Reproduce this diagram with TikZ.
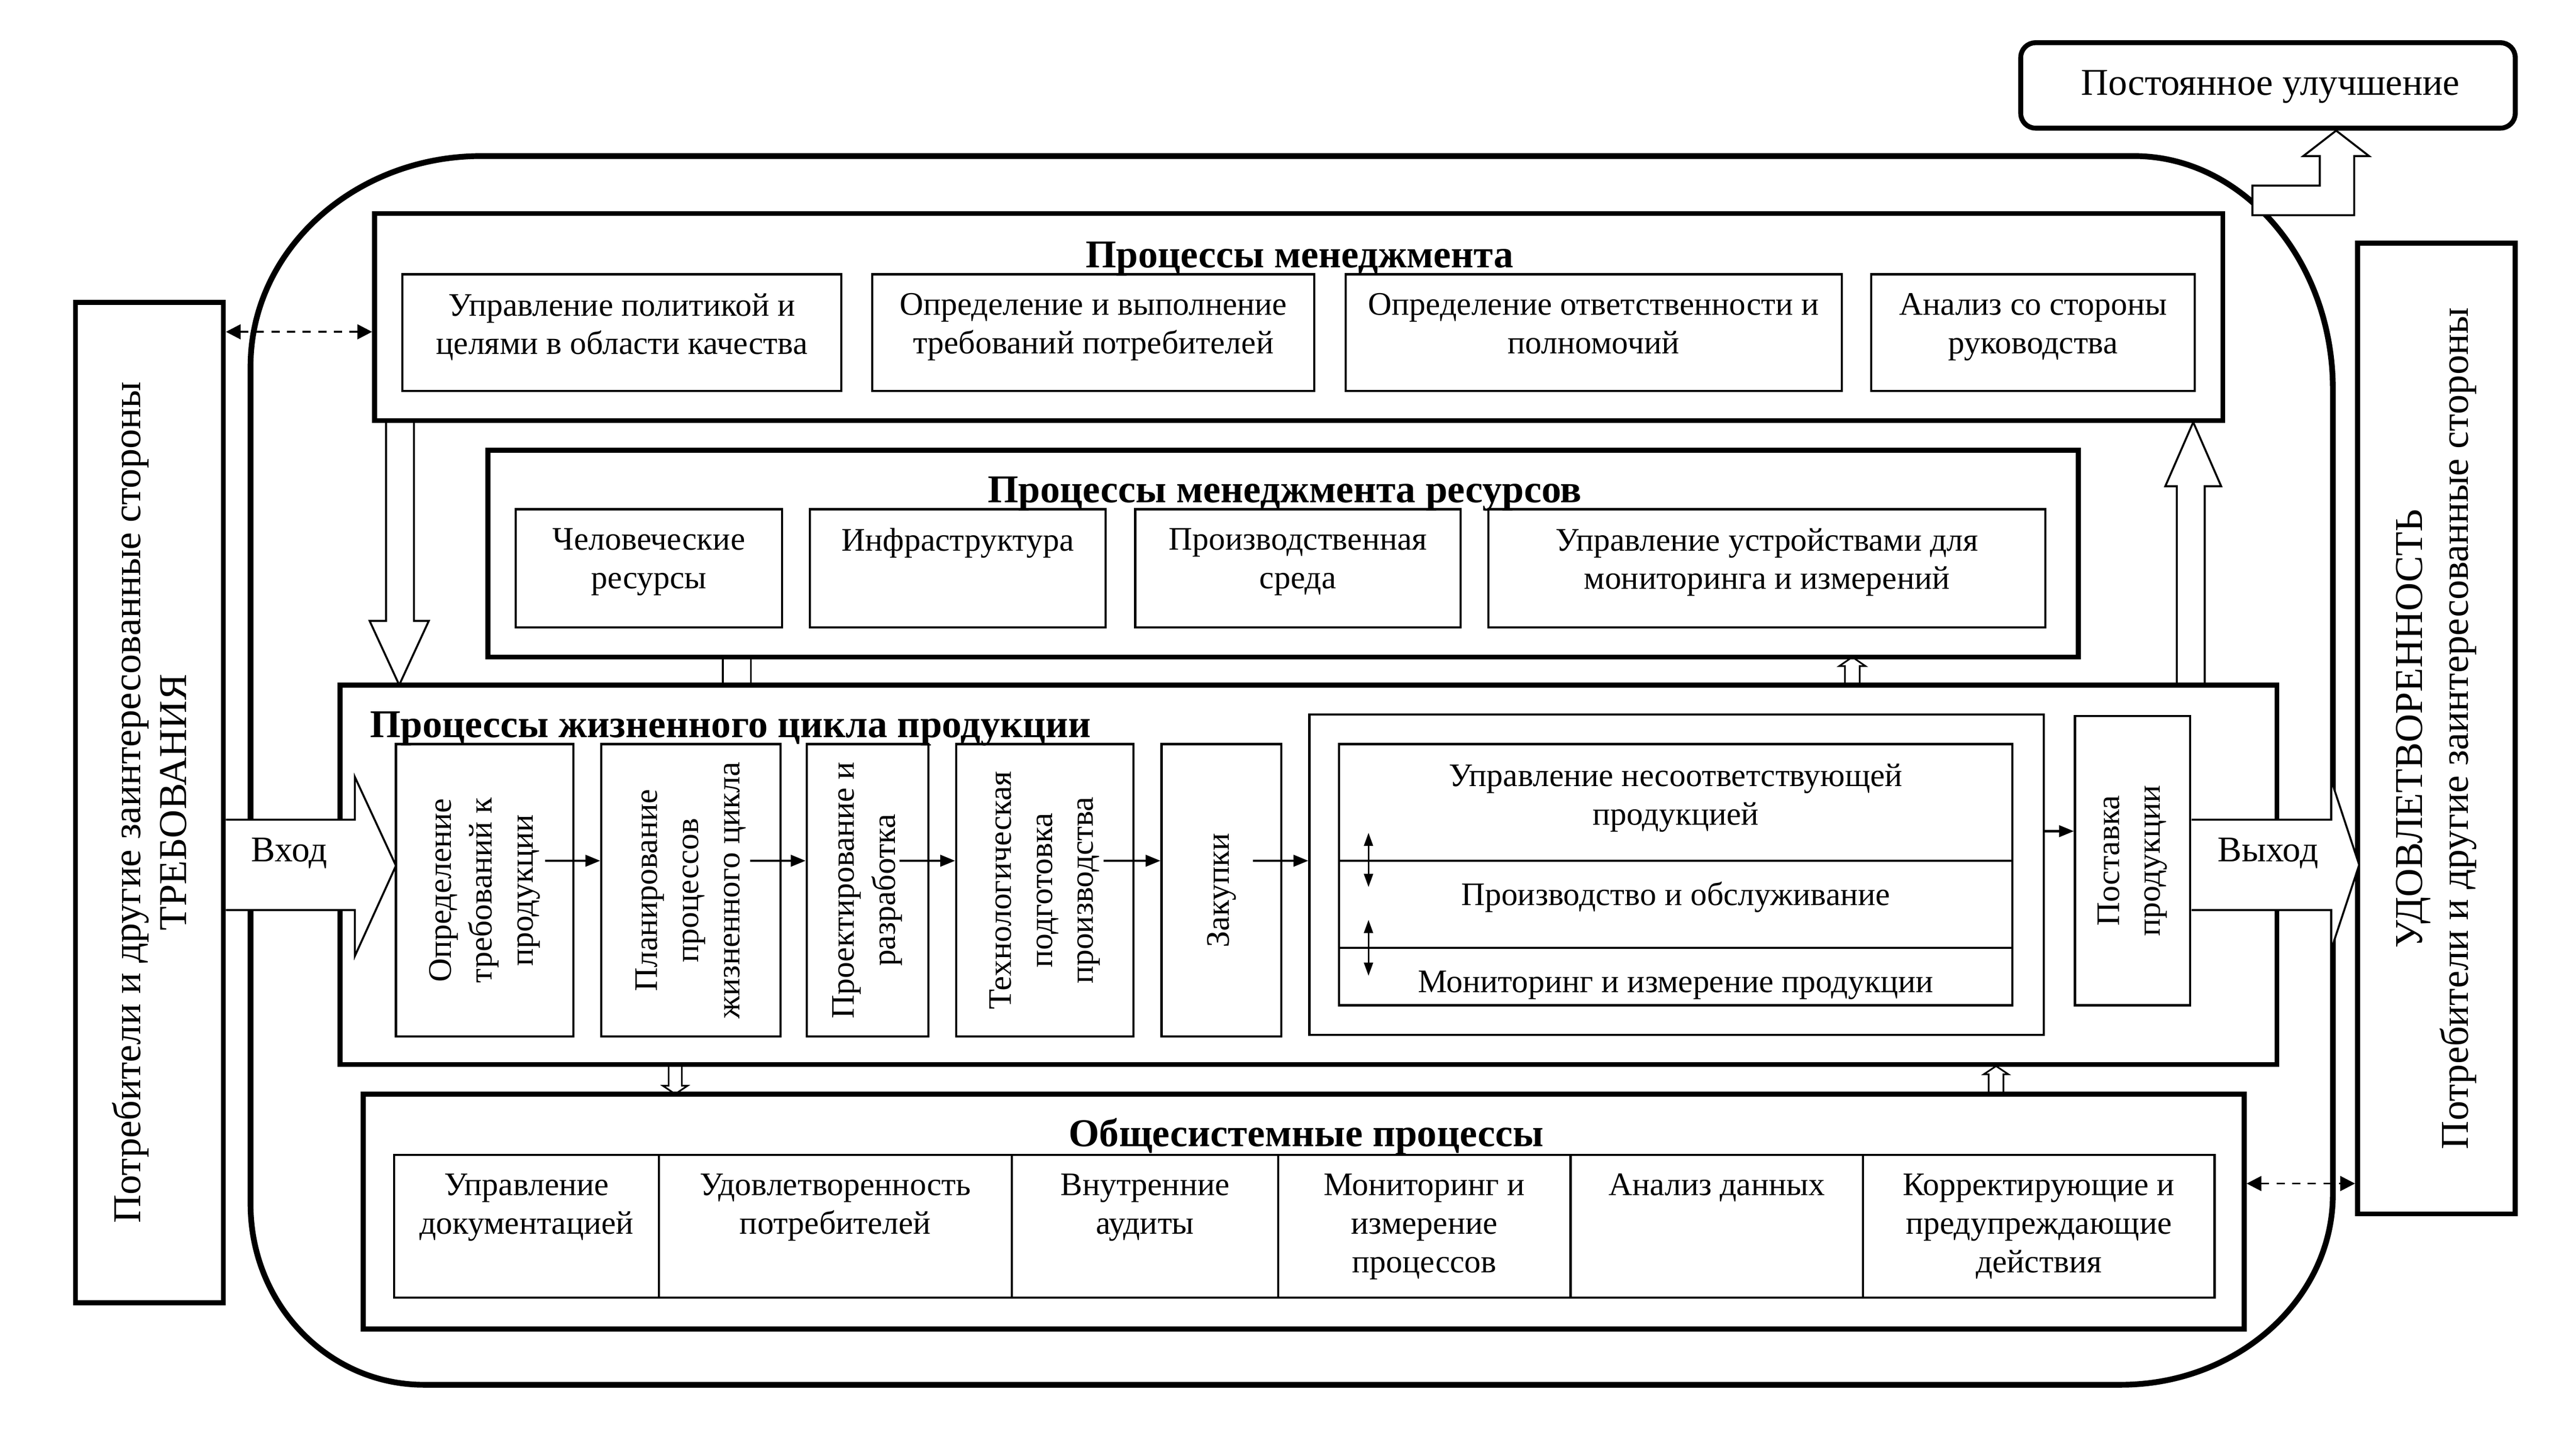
\documentclass[tikz,border=0pt]{standalone}
\usepackage{fontspec}
\setmainfont{Liberation Serif}
\usetikzlibrary{fit,calc,arrows.meta}
\begin{document}
\begin{tikzpicture}[x=1pt,y=-1pt,
  thickbox/.style={draw, line width=3pt, inner sep=0pt},
  thinbox/.style={draw, line width=1.3pt, inner sep=0pt},
  txt/.style={font=\fontsize{20}{23.5}\selectfont, align=center, inner sep=0pt},
  rtxt/.style={font=\fontsize{20}{25}\selectfont, align=center, inner sep=0pt, rotate=90},
  sidetxt/.style={font=\fontsize{24}{28}\selectfont, align=center, inner sep=0pt, rotate=90},
  ttl/.style={font=\fontsize{24}{28}\selectfont\bfseries, inner sep=0pt},
  iotxt/.style={font=\fontsize{22}{26}\selectfont, inner sep=0pt, anchor=base},
  blockarrow/.style={draw, fill=white, line width=1.2pt, line join=miter},
  flow/.style={-{Triangle[length=9pt,width=7pt]}, line width=1.3pt},
  dbl/.style={{Triangle[length=8pt,width=5.5pt]}-{Triangle[length=8pt,width=5.5pt]}, line width=1pt},
  dasharrow/.style={{Triangle[length=9pt,width=9pt]}-{Triangle[length=9pt,width=9pt]}, line width=1.2pt, dash pattern=on 5pt off 4.5pt},
]
\useasboundingbox (0,0) rectangle (1568,870.4);

% outer rounded contour
\draw[line width=3.5pt] (152.5,223) .. controls (152.5,152.3) and (215.7,95) .. (293,95)
  -- (1299,95) .. controls (1365.3,95) and (1420,158.6) .. (1420,237)
  -- (1420,727) .. controls (1420,791.1) and (1361.7,843) .. (1291,843)
  -- (258,843) .. controls (199.5,843) and (152.5,793.75) .. (152.5,733) -- cycle;

% block arrows between the process boxes (drawn below the boxes)
\path[blockarrow] (235,256.5) -- (235,378) -- (225,378) -- (243,417) -- (261,378) -- (252,378) -- (252,256.5);
\path[blockarrow] (1325,417) -- (1325,296) -- (1318,296) -- (1335,257) -- (1352,296) -- (1342,296) -- (1342,417);
\path[blockarrow, line width=1pt] (440,400) rectangle (457,417);
\path[blockarrow, line width=1pt] (1123,417) -- (1123,405.5) -- (1119.5,405.5) -- (1127.5,400) -- (1135.5,405.5) -- (1132,405.5) -- (1132,417);
\path[blockarrow, line width=1pt] (407,648) -- (407,661) -- (403.5,661) -- (411,666) -- (418.5,661) -- (415,661) -- (415,648);
\path[blockarrow, line width=1pt] (1210.5,666) -- (1210.5,654) -- (1207.5,654) -- (1215,649) -- (1222.5,654) -- (1219.5,654) -- (1219.5,666);

% side boxes
\node[thickbox, fit={(46,184) (136,793)}] (lb) {};
\node[thickbox, fit={(1435,148) (1531,739)}] (rb) {};
\node[thickbox, rounded corners=9pt, fit={(1230,26) (1531,78)}] (pu) {};
\node[sidetxt] at (lb.center) {Потребители и другие заинтересованные стороны\\ТРЕБОВАНИЯ};
\node[sidetxt] at (rb.center) {УДОВЛЕТВОРЕННОСТЬ\\Потребители и другие заинтересованные стороны};
\node[font=\fontsize{23}{27}\selectfont, inner sep=0pt, anchor=base] at (1382,58) {Постоянное улучшение};

% management processes
\node[thickbox, fit={(228,130) (1353,256)}] (mg) {};
\node[ttl, anchor=base] at (791,163) {Процессы менеджмента};
\node[thinbox, fit={(245,167) (512,238)}] (m1) {};
\node[thinbox, fit={(531,167) (800,238)}] (m2) {};
\node[thinbox, fit={(819,167) (1121,238)}] (m3) {};
\node[thinbox, fit={(1139,167) (1336,238)}] (m4) {};
\node[txt, anchor=north] at ([yshift=-12pt]m1.north) {Управление политикой и\\целями в области качества};
\node[txt, anchor=north] at ([yshift=-12pt]m2.north) {Определение и выполнение\\требований потребителей};
\node[txt, anchor=north] at ([yshift=-12pt]m3.north) {Определение ответственности и\\полномочий};
\node[txt, anchor=north] at ([yshift=-12pt]m4.north) {Анализ со стороны\\руководства};

% resource management
\node[thickbox, fit={(297,274) (1265,400)}] (rs) {};
\node[ttl, anchor=base] at (782,306) {Процессы менеджмента ресурсов};
\node[thinbox, fit={(314,310) (476,382)}] (r1) {};
\node[thinbox, fit={(493,310) (673,382)}] (r2) {};
\node[thinbox, fit={(691,310) (889,382)}] (r3) {};
\node[thinbox, fit={(906,310) (1245,382)}] (r4) {};
\node[txt, anchor=north] at ([yshift=-12pt]r1.north) {Человеческие\\ресурсы};
\node[txt, anchor=north] at ([yshift=-12pt]r2.north) {Инфраструктура};
\node[txt, anchor=north] at ([yshift=-12pt]r3.north) {Производственная\\среда};
\node[txt, anchor=north] at ([yshift=-12pt]r4.north) {Управление устройствами для\\мониторинга и измерений};

% life cycle processes
\node[thickbox, fit={(207,417) (1386,648)}] (lc) {};
\node[ttl, anchor=base west] at (225,449) {Процессы жизненного цикла продукции};
\node[thinbox, fit={(241,453) (349,631)}] (l1) {};
\node[thinbox, fit={(366,453) (475,631)}] (l2) {};
\node[thinbox, fit={(491,453) (565,631)}] (l3) {};
\node[thinbox, fit={(582,453) (690,631)}] (l4) {};
\node[thinbox, fit={(707,453) (780,631)}] (l5) {};
\node[thinbox, fit={(797,435) (1244,630)}] (big) {};
\node[thinbox, fit={(815,453) (1225,612)}] (inner) {};
\node[thinbox, fit={(1263,436) (1333,612)}] (pp) {};
\node[rtxt] at (l1.center) {Определение\\требований к\\продукции};
\node[rtxt] at (l2.center) {Планирование\\процессов\\жизненного цикла};
\node[rtxt] at (l3.center) {Проектирование и\\разработка};
\node[rtxt] at (l4.center) {Технологическая\\подготовка\\производства};
\node[rtxt] at (l5.center) {Закупки};
\node[rtxt] at (pp.center) {Поставка\\продукции};

\coordinate (s1) at (0,524);
\coordinate (s2) at (0,577);
\coordinate (row) at (0,524);
\coordinate (row2) at (0,506);
\draw[line width=1.3pt] (inner.west |- s1) -- (inner.east |- s1);
\draw[line width=1.3pt] (inner.west |- s2) -- (inner.east |- s2);
\node[txt, anchor=north] at ([yshift=-12.5pt]inner.north) {Управление несоответствующей\\продукцией};
\node[txt, anchor=base] at (1020,551) {Производство и обслуживание};
\node[txt, anchor=base] at (1020,604) {Мониторинг и измерение продукции};
\coordinate (da1) at (833,507);
\coordinate (db1) at (833,540);
\coordinate (da2) at (833,560);
\coordinate (db2) at (833,594);
\draw[dbl] (da1) -- (db1);
\draw[dbl] (da2) -- (db2);

\draw[flow] ($(l1.east |- row)+(-18,0)$) -- (l2.west |- row);
\draw[flow] ($(l2.east |- row)+(-19,0)$) -- (l3.west |- row);
\draw[flow] ($(l3.east |- row)+(-18,0)$) -- (l4.west |- row);
\draw[flow] ($(l4.east |- row)+(-19,0)$) -- (l5.west |- row);
\draw[flow] ($(l5.east |- row)+(-18,0)$) -- (big.west |- row);
\draw[flow] (big.east |- row2) -- (pp.west |- row2);

% general system processes
\node[thickbox, fit={(221,666) (1366,809)}] (gs) {};
\node[ttl, anchor=base] at (795,698) {Общесистемные процессы};
\node[thinbox, fit={(240,703) (401,790)}] (g1) {};
\node[thinbox, fit={(401,703) (616,790)}] (g2) {};
\node[thinbox, fit={(616,703) (778,790)}] (g3) {};
\node[thinbox, fit={(778,703) (956,790)}] (g4) {};
\node[thinbox, fit={(956,703) (1134,790)}] (g5) {};
\node[thinbox, fit={(1134,703) (1348,790)}] (g6) {};
\node[txt, anchor=north] at ([yshift=-12pt]g1.north) {Управление\\документацией};
\node[txt, anchor=north] at ([yshift=-12pt]g2.north) {Удовлетворенность\\потребителей};
\node[txt, anchor=north] at ([yshift=-12pt]g3.north) {Внутренние\\аудиты};
\node[txt, anchor=north] at ([yshift=-12pt]g4.north) {Мониторинг и\\измерение\\процессов};
\node[txt, anchor=north] at ([yshift=-12pt]g5.north) {Анализ данных};
\node[txt, anchor=north] at ([yshift=-12pt]g6.north) {Корректирующие и\\предупреждающие\\действия};

% dashed links
\coordinate (d1) at (0,202);
\coordinate (d2) at (0,720.5);
\draw[dasharrow] (lb.east |- d1) -- (mg.west |- d1);
\draw[dasharrow] (gs.east |- d2) -- (rb.west |- d2);

% input / output arrows and improvement arrow (on top)
\path[blockarrow] (137.5,554) -- (216,554) -- (216,582) -- (241,527) -- (216,473) -- (216,499) -- (137.5,499);
\path[blockarrow] (1334,499) -- (1419,499) -- (1419,475) -- (1436,526.5) -- (1419,578) -- (1419,554) -- (1334,554);
\node[iotxt] (vin) at (176,524.5) {Вход};
\node[iotxt] (vout) at (1380.5,524.5) {Выход};
\path[blockarrow] (1371,131) -- (1371,113) -- (1412,113) -- (1412,95) -- (1402,95) -- (1422,79.5) -- (1442,95) -- (1433,95) -- (1433,131) -- cycle;
\end{tikzpicture}
\end{document}
